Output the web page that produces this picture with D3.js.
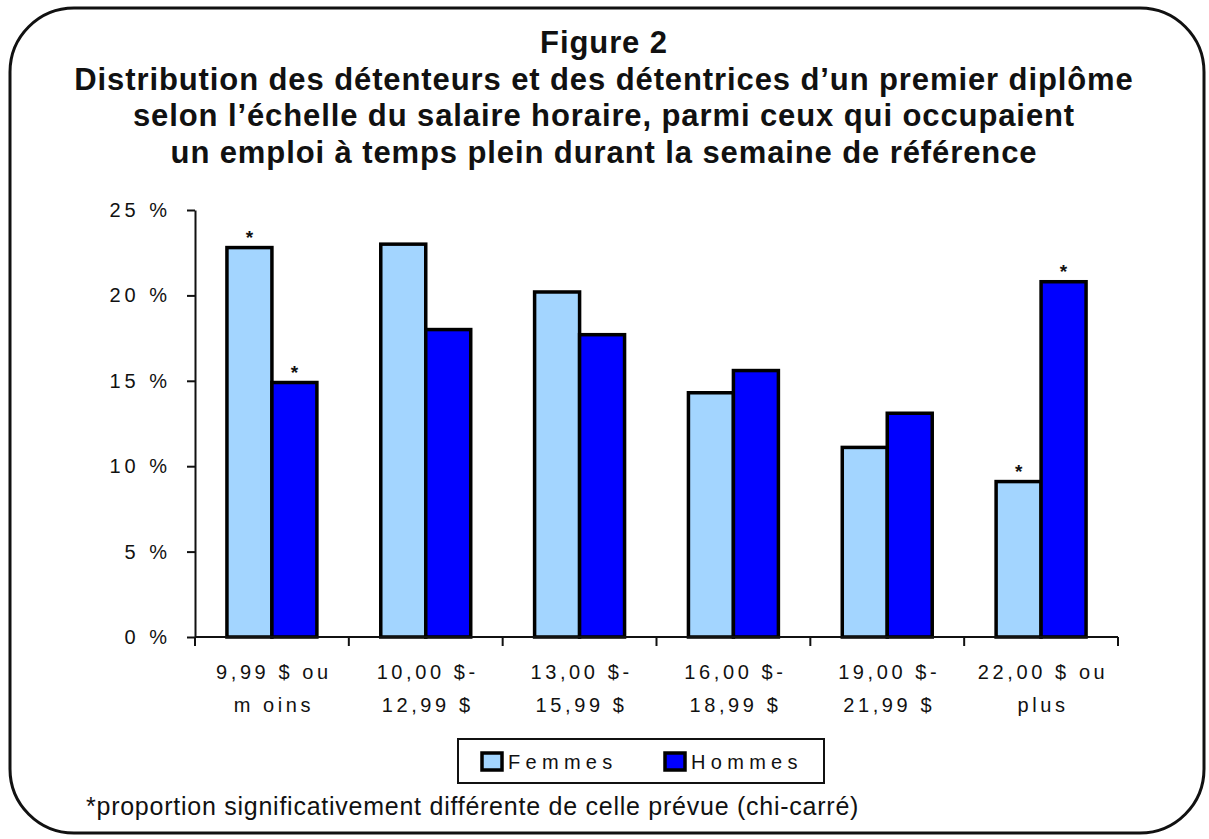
<!DOCTYPE html>
<html>
<head>
<meta charset="utf-8">
<title>Figure 2</title>
<script src="https://d3js.org/d3.v7.min.js"></script>
<style>
    body { margin: 0; background: #fff; }
    text { font-family: "Liberation Sans", Arial, sans-serif; fill: #111; }
</style>
</head>
<body>
<svg width="1209" height="839"></svg>
<script>
    var categories = [["9,99 $ ou", "m oins"], ["10,00 $-", "12,99 $"], ["13,00 $-", "15,99 $"],
                      ["16,00 $-", "18,99 $"], ["19,00 $-", "21,99 $"], ["22,00 $ ou", "plus"]];
    var series = ["Femmes", "Hommes"];
    var femmes = [22.8, 23.0, 20.2, 14.3, 11.1, 9.1];
    var hommes = [14.9, 18.0, 17.7, 15.6, 13.1, 20.8];
    // * = significatif (chi-carré)
    var femmesStar = [true, false, false, false, false, true];
    var hommesStar = [true, false, false, false, false, true];
    var yTicks = [0, 5, 10, 15, 20, 25];
    var titleLines = ["Figure 2",
        "Distribution des détenteurs et des détentrices d\u2019un premier diplôme",
        "selon l\u2019échelle du salaire horaire, parmi ceux qui occupaient",
        "un emploi à temps plein durant la semaine de référence"];
    var note = "*proportion significativement différente de celle prévue (chi-carré)";

    var colors = {Femmes: "#a3d5ff", Hommes: "#0000ff"};

    var svg = d3.select("svg");

    // cadre arrondi
    svg.append("rect")
        .attr("x", 10).attr("y", 8)
        .attr("width", 1194).attr("height", 825)
        .attr("rx", 64).attr("ry", 64)
        .attr("fill", "none").attr("stroke", "#111").attr("stroke-width", 3);

    // titre
    svg.selectAll(".title")
        .data(titleLines)
        .enter().append("text")
        .attr("class", "title")
        .attr("x", 604)
        .attr("y", function(d, i) { return 53 + i * 36.5; })
        .attr("text-anchor", "middle")
        .style("font-weight", "bold")
        .style("font-size", "31px")
        .style("letter-spacing", "0.9px")
        .text(function(d) { return d; });

    var data = categories.map(function(c, i) {
        return {key: i, label: c, values: [
            {s: "Femmes", v: femmes[i], star: femmesStar[i]},
            {s: "Hommes", v: hommes[i], star: hommesStar[i]}]};
    });

    var x0 = d3.scaleBand().domain(d3.range(categories.length)).range([195, 1118]),
        x1 = d3.scaleBand().domain(series).range([0, x0.bandwidth()]).paddingOuter(0.71),
        y = d3.scaleLinear().domain([0, 25]).range([637, 210]);

    // axe Y
    var yAxis = svg.append("g")
        .attr("transform", "translate(195,0)")
        .call(d3.axisLeft(y).tickValues(yTicks).tickSize(8).tickSizeOuter(0)
            .tickFormat(function(d) { return d + " %"; }));
    yAxis.select(".domain").attr("stroke", "#111").attr("stroke-width", 2);
    yAxis.selectAll(".tick line").attr("stroke", "#111").attr("stroke-width", 2);
    yAxis.selectAll(".tick text")
        .attr("x", -24)
        .style("font-size", "20px")
        .style("letter-spacing", "4px")
        .style("font-family", "'Liberation Sans', Arial, sans-serif")
        .attr("fill", "#111");

    // barres
    var groups = svg.selectAll(".grp")
        .data(data)
        .enter().append("g")
        .attr("class", "grp")
        .attr("transform", function(d) { return "translate(" + x0(d.key) + ",0)"; });

    groups.selectAll("rect")
        .data(function(d) { return d.values; })
        .enter().append("rect")
        .attr("x", function(d) { return x1(d.s); })
        .attr("y", function(d) { return y(d.v); })
        .attr("width", x1.bandwidth())
        .attr("height", function(d) { return y(0) - y(d.v); })
        .attr("fill", function(d) { return colors[d.s]; })
        .attr("stroke", "#000")
        .attr("stroke-width", 3.5);

    groups.selectAll(".star")
        .data(function(d) { return d.values.filter(function(v) { return v.star; }); })
        .enter().append("text")
        .attr("class", "star")
        .attr("x", function(d) { return x1(d.s) + x1.bandwidth() / 2; })
        .attr("y", function(d) { return y(d.v) - 4; })
        .attr("text-anchor", "middle")
        .style("font-size", "19px")
        .style("font-weight", "bold")
        .text("*");

    // axe X
    svg.append("line")
        .attr("x1", 195).attr("x2", 1118)
        .attr("y1", y(0)).attr("y2", y(0))
        .attr("stroke", "#111").attr("stroke-width", 2);

    var bounds = d3.range(categories.length).map(function(i) { return x0(i); }).concat([x0.range()[1]]);
    svg.selectAll(".xtick")
        .data(bounds)
        .enter().append("line")
        .attr("x1", function(d) { return d; }).attr("x2", function(d) { return d; })
        .attr("y1", y(0)).attr("y2", y(0) + 9)
        .attr("stroke", "#111").attr("stroke-width", 2);

    groups.selectAll(".xlab")
        .data(function(d) { return d.label; })
        .enter().append("text")
        .attr("class", "xlab")
        .attr("x", x0.bandwidth() / 2 + 2)
        .attr("y", function(d, i) { return 679 + i * 33; })
        .attr("text-anchor", "middle")
        .style("font-size", "20px")
        .style("letter-spacing", "3.6px")
        .text(function(d) { return d; });

    // légende
    var legend = svg.append("g");
    legend.append("rect")
        .attr("x", 458).attr("y", 739)
        .attr("width", 366).attr("height", 44)
        .attr("fill", "#fff").attr("stroke", "#111").attr("stroke-width", 2);

    var legX = [482, 665];
    var items = legend.selectAll(".item")
        .data(series)
        .enter().append("g")
        .attr("transform", function(d, i) { return "translate(" + legX[i] + ",753)"; });
    items.append("rect")
        .attr("width", 20).attr("height", 17)
        .attr("fill", function(d) { return colors[d]; })
        .attr("stroke", "#000").attr("stroke-width", 3.5);
    items.append("text")
        .attr("x", 26).attr("y", 16)
        .style("font-size", "20px")
        .style("letter-spacing", "5.3px")
        .text(function(d) { return d; });

    // note
    svg.append("text")
        .attr("x", 86).attr("y", 815)
        .style("font-size", "25px")
        .style("letter-spacing", "0.75px")
        .text(note);
</script>
</body>
</html>
